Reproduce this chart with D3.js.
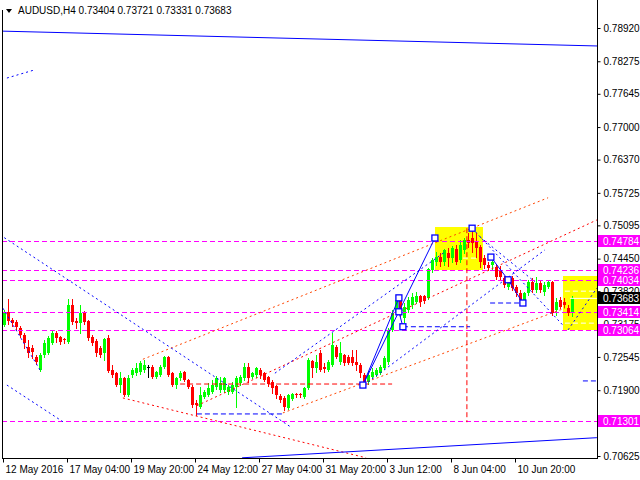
<!DOCTYPE html>
<html><head><meta charset="utf-8">
<script src="https://cdn.jsdelivr.net/npm/d3@7"></script>
<style>
body{margin:0;background:#fff}
svg{display:block}
text{font-family:"Liberation Sans",Arial,sans-serif;font-size:10px}
</style>
</head><body>
<svg id="c" width="640" height="480"></svg>
<script>
// ---------- DATA ----------
const symbol = "AUDUSD", timeframe = "H4";
const opens  = [0.7316,0.7342,0.7326,0.7322,0.7311,0.7297,0.7274,0.7272,0.7254,0.7229,
0.7258,0.7262,0.7282,0.7301,0.7293,0.7289,0.7283,0.7355,0.7324,0.7320,
0.7340,0.7324,0.7293,0.7285,0.7272,0.7262,0.7291,0.7229,0.7223,0.7200,
0.7214,0.7181,0.7220,0.7223,0.7225,0.7229,0.7235,0.7235,0.7216,0.7220,
0.7235,0.7254,0.7223,0.7200,0.7214,0.7225,0.7210,0.7196,0.7165,0.7158,
0.7177,0.7181,0.7187,0.7196,0.7190,0.7190,0.7187,0.7187,0.7196,0.7204,
0.7214,0.7235,0.7216,0.7220,0.7229,0.7223,0.7216,0.7206,0.7198,0.7179,
0.7175,0.7156,0.7173,0.7183,0.7183,0.7177,0.7194,0.7247,0.7233,0.7262,
0.7235,0.7229,0.7239,0.7274,0.7245,0.7258,0.7254,0.7254,0.7245,0.7239,
0.7220,0.7206,0.7216,0.7220,0.7223,0.7233,0.7245,0.7307,0.7340,0.7365,
0.7330,0.7345,0.7355,0.7361,0.7373,0.7373,0.7369,0.7423,0.7439,0.7448,
0.7439,0.7456,0.7446,0.7464,0.7442,0.7462,0.7481,0.7485,0.7477,0.7468,
0.7446,0.7433,0.7433,0.7429,0.7423,0.7408,0.7390,0.7408,0.7390,0.7378,
0.7365,0.7378,0.7400,0.7384,0.7398,0.7380,0.7390,0.7400,0.7345,0.7365,
0.7361,0.7349,0.73404];
const highs  = [0.7345,0.7367,0.7330,0.7326,0.7314,0.7301,0.7287,0.7278,0.7258,0.7262,
0.7287,0.7295,0.7305,0.7305,0.7295,0.7291,0.7367,0.7367,0.7330,0.7355,
0.7344,0.7326,0.7297,0.7289,0.7276,0.7291,0.7297,0.7239,0.7225,0.7225,
0.7216,0.7220,0.7233,0.7243,0.7247,0.7249,0.7239,0.7239,0.7227,0.7239,
0.7256,0.7256,0.7225,0.7216,0.7227,0.7227,0.7212,0.7200,0.7171,0.7196,
0.7190,0.7204,0.7210,0.7218,0.7216,0.7216,0.7200,0.7206,0.7218,0.7220,
0.7243,0.7243,0.7225,0.7235,0.7233,0.7225,0.7218,0.7210,0.7200,0.7183,
0.7179,0.7183,0.7185,0.7185,0.7185,0.7196,0.7252,0.7249,0.7258,0.7268,
0.7243,0.7249,0.7301,0.7278,0.7283,0.7260,0.7258,0.7268,0.7268,0.7243,
0.7223,0.7225,0.7233,0.7233,0.7239,0.7256,0.7311,0.7345,0.7373,0.7369,
0.7359,0.7371,0.7378,0.7380,0.7375,0.7375,0.7427,0.7446,0.7458,0.7456,
0.7464,0.7466,0.7470,0.7471,0.7481,0.7485,0.7495,0.7506,0.7495,0.7471,
0.7452,0.7439,0.7446,0.7435,0.7431,0.7411,0.7408,0.7411,0.7394,0.7384,
0.7380,0.7404,0.7408,0.7409,0.7402,0.7400,0.7404,0.7402,0.7369,0.7371,
0.7369,0.7355,0.73721];
const lows   = [0.7314,0.7318,0.7314,0.7307,0.7293,0.7272,0.7254,0.7252,0.7241,0.7227,
0.7254,0.7260,0.7280,0.7283,0.7280,0.7282,0.7282,0.7318,0.7311,0.7301,
0.7318,0.7287,0.7278,0.7256,0.7254,0.7249,0.7225,0.7216,0.7198,0.7187,
0.7179,0.7179,0.7216,0.7220,0.7221,0.7225,0.7216,0.7214,0.7214,0.7218,
0.7233,0.7218,0.7198,0.7194,0.7210,0.7208,0.7194,0.7158,0.7142,0.7156,
0.7175,0.7179,0.7185,0.7192,0.7187,0.7187,0.7183,0.7185,0.7158,0.7200,
0.7210,0.7206,0.7214,0.7216,0.7214,0.7208,0.7198,0.7185,0.7175,0.7167,
0.7152,0.7154,0.7171,0.7177,0.7177,0.7175,0.7192,0.7216,0.7225,0.7227,
0.7225,0.7227,0.7237,0.7252,0.7241,0.7239,0.7241,0.7239,0.7229,0.7216,
0.7200,0.7202,0.7214,0.7218,0.7221,0.7231,0.7241,0.7305,0.7338,0.7334,
0.7322,0.7342,0.7349,0.7359,0.7353,0.7359,0.7367,0.7419,0.7433,0.7431,
0.7433,0.7431,0.7439,0.7435,0.7439,0.7456,0.7468,0.7458,0.7448,0.7429,
0.7427,0.7423,0.7423,0.7406,0.7404,0.7390,0.7386,0.7384,0.7373,0.7359,
0.7357,0.7375,0.7380,0.7380,0.7380,0.7375,0.7388,0.7336,0.7336,0.7349,
0.7351,0.7336,0.73331];
const closes = [0.7342,0.7324,0.7320,0.7313,0.7297,0.7282,0.7262,0.7264,0.7245,0.7258,
0.7282,0.7291,0.7301,0.7291,0.7283,0.7287,0.7355,0.7322,0.7320,0.7340,
0.7322,0.7291,0.7282,0.7262,0.7258,0.7289,0.7227,0.7220,0.7200,0.7214,
0.7181,0.7214,0.7229,0.7233,0.7243,0.7239,0.7235,0.7216,0.7225,0.7235,
0.7254,0.7220,0.7200,0.7214,0.7223,0.7210,0.7196,0.7161,0.7161,0.7181,
0.7187,0.7194,0.7200,0.7214,0.7204,0.7214,0.7196,0.7200,0.7214,0.7216,
0.7235,0.7214,0.7223,0.7233,0.7220,0.7210,0.7202,0.7194,0.7181,0.7171,
0.7158,0.7181,0.7183,0.7181,0.7181,0.7194,0.7249,0.7233,0.7245,0.7229,
0.7231,0.7245,0.7278,0.7254,0.7262,0.7243,0.7243,0.7243,0.7239,0.7223,
0.7206,0.7220,0.7225,0.7229,0.7235,0.7252,0.7307,0.7340,0.7365,0.7340,
0.7351,0.7365,0.7371,0.7373,0.7361,0.7363,0.7425,0.7442,0.7448,0.7439,
0.7462,0.7446,0.7466,0.7439,0.7471,0.7481,0.7475,0.7475,0.7466,0.7439,
0.7433,0.7427,0.7439,0.7409,0.7409,0.7394,0.7404,0.7388,0.7378,0.7365,
0.7378,0.7400,0.7384,0.7398,0.7384,0.7394,0.7400,0.7340,0.7361,0.7351,
0.7355,0.7340,0.73683];

const timeTickIdx = [0,16,32,48,64,80,96,112,128];
const timeLabels  = ["12 May 2016","17 May 04:00","19 May 20:00","24 May 12:00","27 May 04:00",
                     "31 May 20:00","3 Jun 12:00","8 Jun 04:00","10 Jun 20:00"];
const priceTicks  = [0.78920,0.78275,0.77645,0.77000,0.76370,0.75725,0.75095,0.74450,
                     0.73820,0.73175,0.72545,0.71900,0.71255,0.70625];
const levels      = [0.74784,0.74236,0.74034,0.73414,0.73064,0.71301];
const currentPrice = 0.73683;

// analysis objects, in [bar index, price]
const zones        = [[[107.6,0.7506],[119.6,0.7423]], [[139.6,0.7411],[149,0.7307]]];
const whiteDashed  = [[[114.6,0.7446],[118.1,0.7446]], [[140.1,0.7382],[148.1,0.7382]], [[140.1,0.7320],[148.1,0.7320]]];
const whiteSolid   = [[[141.4,0.7368],[148.1,0.7368]]];
const blueSolid    = [[[-1,0.7886],[149,0.7857]],
                      [[59.4,0.7059],[148.1,0.7098]],
                      [[89.6,0.7200],[98.6,0.7369]],
                      [[89.6,0.7200],[107.6,0.7485]],
                      [[98.6,0.7369],[98.6,0.7342],[99.6,0.7313]],
                      [[121.6,0.7448],[125.9,0.7404],[129.6,0.7359]]];
const blueDotted   = [[[0.6,0.7795],[7.6,0.7811]],
                      [[-1.1,0.7491],[71.9,0.7117]],
                      [[0.6,0.7200],[14.6,0.7129]],
                      [[-0.4,0.7349],[8.9,0.7229]],
                      [[67.6,0.7223],[110.1,0.7458]],
                      [[90.9,0.7206],[135.1,0.7462]],
                      [[116.9,0.7504],[139.6,0.7316]],
                      [[118.9,0.7487],[132.6,0.7400]],
                      [[140.9,0.7307],[148.1,0.7388]]];
const blueDashed   = [[[48.1,0.7144],[69.4,0.7144]],
                      [[121.4,0.7359],[129.6,0.7359]],
                      [[99.6,0.7313],[116.4,0.7313]],
                      [[144.6,0.7208],[148.1,0.7208]]];
const redDashed    = [[[43.9,0.7202],[96.9,0.7202]], [[115.6,0.7504],[115.6,0.7128]]];
const orangeDotted = [[[34.6,0.7250],[135.9,0.7563]], [[69.6,0.7146],[140.1,0.7349]]];
const redDotted    = [[[29.6,0.7175],[90.4,0.7059]], [[48.1,0.7160],[148.1,0.7520]]];
const markers      = [[89.6,0.7200],[98.6,0.7369],[98.6,0.7342],[99.6,0.7313],[107.6,0.7485],
                      [116.9,0.7504],[121.6,0.7448],[125.9,0.7404],[129.6,0.7359]];

// ---------- CHART ----------
const svg = d3.select("#c");
const W = 640, H = 480, axisX = 597, axisY = 458, leftX = 2;
const x = d3.scaleLinear().domain([0, 1]).range([4.5, 8.5]);
const y = d3.scaleLinear().domain([0.70625, 0.78920]).range([456, 28]);
const fmt = d3.format(".5f");

svg.append("defs").append("clipPath").attr("id","plot")
  .append("rect").attr("x",leftX+0.5).attr("y",0).attr("width",axisX-leftX-0.5).attr("height",axisY);

const plot = svg.append("g").attr("clip-path","url(#plot)");
const line = d3.line().x(d=>x(d[0])).y(d=>y(d[1]));

// zones (background)
plot.selectAll("rect.zone").data(zones).join("rect")
  .attr("fill","#ffff00")
  .attr("x",d=>Math.round(x(d[0][0]))).attr("y",d=>Math.round(y(d[0][1])))
  .attr("width",d=>Math.round(x(d[1][0]))-Math.round(x(d[0][0])))
  .attr("height",d=>Math.round(y(d[1][1]))-Math.round(y(d[0][1])));

// candles
const bars = opens.map((o,i)=>({i,o,h:highs[i],l:lows[i],c:closes[i]}));
const col = d => d.c>d.o ? "#00ff00" : (d.c<d.o ? "#ff0000" : "#000000");
const cg = plot.append("g").attr("shape-rendering","crispEdges");
cg.selectAll("line").data(bars).join("line")
  .attr("x1",d=>x(d.i)).attr("x2",d=>x(d.i))
  .attr("y1",d=>Math.round(y(d.h))).attr("y2",d=>Math.round(y(d.l))+1)
  .attr("stroke",col).attr("stroke-width",1);
cg.selectAll("rect").data(bars).join("rect")
  .attr("x",d=>x(d.i)-1.5).attr("width",3)
  .attr("y",d=>Math.round(y(Math.max(d.o,d.c))))
  .attr("height",d=>Math.max(1,Math.round(y(Math.min(d.o,d.c)))-Math.round(y(Math.max(d.o,d.c)))))
  .attr("fill",col);

// horizontal levels
plot.selectAll("line.lvl").data(levels).join("line")
  .attr("x1",leftX).attr("x2",axisX)
  .attr("y1",d=>Math.round(y(d))+0.5).attr("y2",d=>Math.round(y(d))+0.5)
  .attr("stroke","#ff00ff").attr("stroke-dasharray","5,3");

function drawLines(data, color, dash, width){
  plot.append("g").selectAll("path").data(data).join("path")
    .attr("d",line).attr("fill","none").attr("stroke",color)
    .attr("stroke-width",width||1).attr("stroke-dasharray",dash||null);
}
drawLines(whiteDashed,"#ffffff","5,3");
drawLines(whiteSolid,"#ffffff");
drawLines(orangeDotted,"#ff4500","2,3");
drawLines(redDotted,"#ff0000","2,3");
drawLines(redDashed,"#ff0000","5,3");
drawLines(blueDotted,"#0000ff","2,3");
drawLines(blueDashed,"#0000ff","5,3");
drawLines(blueSolid,"#0000ff");

plot.selectAll("rect.mk").data(markers).join("rect")
  .attr("x",d=>x(d[0])-3).attr("y",d=>y(d[1])-3).attr("width",6).attr("height",6)
  .attr("fill","#ffffff").attr("stroke","#0000ff").attr("stroke-width",1.3);

// frame
const fr = svg.append("g").attr("stroke","#000").attr("shape-rendering","crispEdges");
fr.append("line").attr("x1",axisX+0.5).attr("x2",axisX+0.5).attr("y1",0).attr("y2",axisY+1);
fr.append("line").attr("x1",leftX+0.5).attr("x2",leftX+0.5).attr("y1",10).attr("y2",axisY+1);
fr.append("line").attr("x1",leftX).attr("x2",axisX+1).attr("y1",axisY+0.5).attr("y2",axisY+0.5);

// price axis
const ya = svg.append("g").attr("transform",`translate(${axisX+0.5},0)`)
  .call(d3.axisRight(y).tickValues(priceTicks).tickFormat(fmt).tickSize(3).tickPadding(3).tickSizeOuter(0));
ya.select(".domain").remove();
ya.selectAll("text").attr("fill","#000").style("font-size","10px").attr("font-family","Liberation Sans, Arial, sans-serif");
ya.selectAll("line").attr("stroke","#000");

// level labels
const lb = svg.append("g");
lb.selectAll("rect").data(levels).join("rect")
  .attr("x",axisX+1).attr("y",d=>Math.round(y(d))-6).attr("width",W-axisX-1).attr("height",12).attr("fill","#ff00ff");
lb.selectAll("text").data(levels).join("text")
  .attr("x",axisX+6).attr("y",d=>Math.round(y(d))+4).attr("fill","#fff").text(fmt);
const cp = svg.append("g");
cp.append("rect").attr("x",axisX+1).attr("y",Math.round(y(currentPrice))-6).attr("width",W-axisX-1).attr("height",12).attr("fill","#000");
cp.append("text").attr("x",axisX+6).attr("y",Math.round(y(currentPrice))+4).attr("fill","#fff").text(fmt(currentPrice));

// time axis
const xa = svg.append("g").attr("transform",`translate(-1.5,${axisY+0.5})`)
  .call(d3.axisBottom(x).tickValues(timeTickIdx).tickFormat((d,k)=>timeLabels[k]).tickSize(4).tickPadding(3).tickSizeOuter(0));
xa.select(".domain").remove();
xa.selectAll("line").attr("stroke","#000");
xa.selectAll("text").attr("text-anchor","start").attr("x",2).attr("fill","#000")
  .style("font-size","10px").attr("font-family","Liberation Sans, Arial, sans-serif");

// header
const last = opens.length-1;
svg.append("path").attr("d","M6,9 L12,9 L9,13 Z").attr("fill","#000");
svg.append("text").attr("x",18).attr("y",14).attr("fill","#000")
  .text(`${symbol},${timeframe}  ${fmt(opens[last])} ${fmt(highs[last])} ${fmt(lows[last])} ${fmt(closes[last])}`);
</script>
</body></html>
